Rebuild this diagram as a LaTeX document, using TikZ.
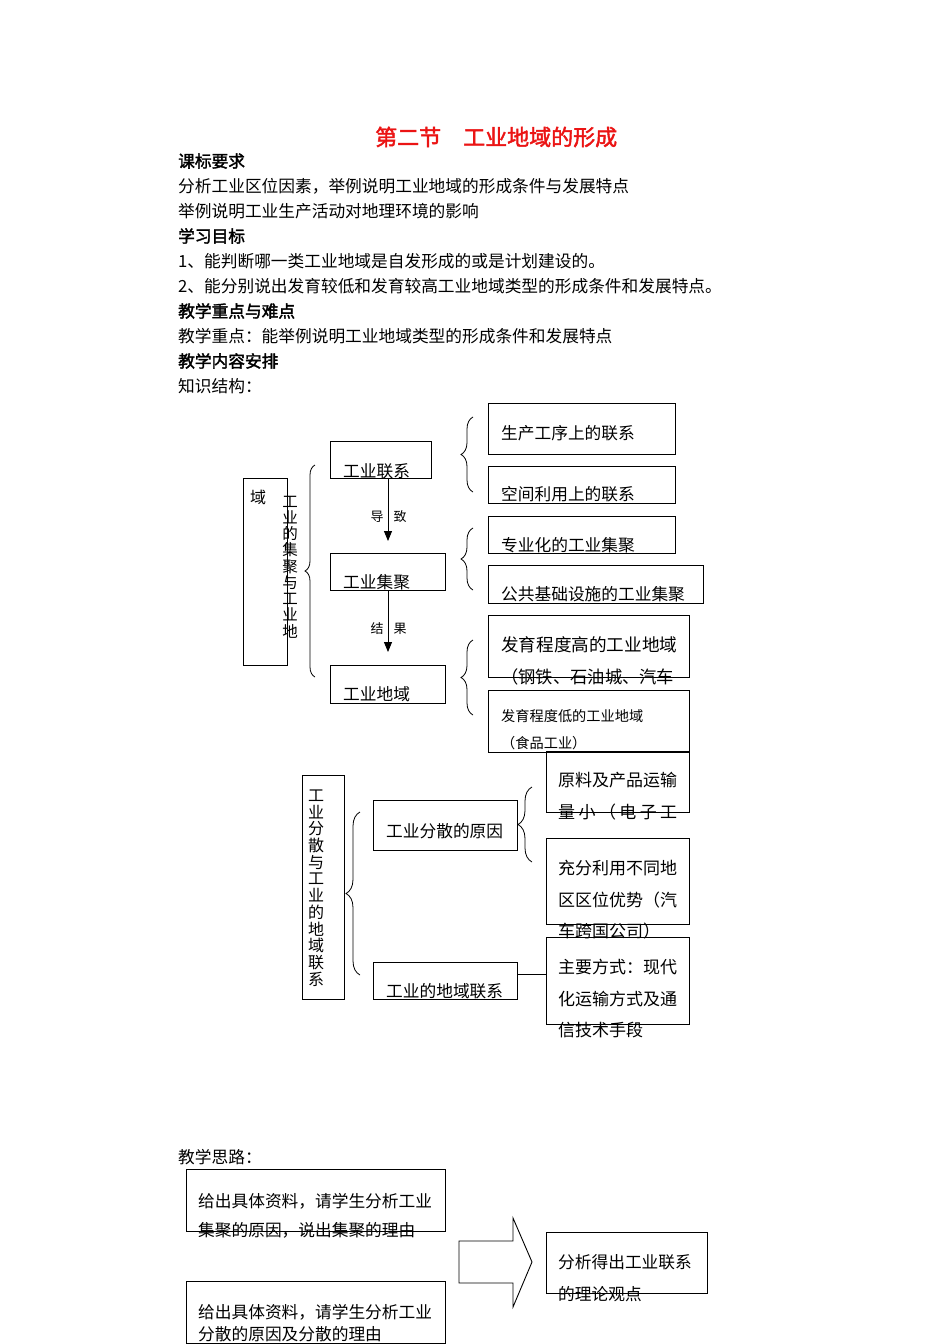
\documentclass[tikz,border=0pt]{standalone}
\usepackage{fontspec}
\newfontfamily\cjk{Noto Sans CJK SC}
\newfontfamily\cjkb[FakeBold=2]{Noto Sans CJK SC}
\usetikzlibrary{arrows.meta,decorations.pathreplacing}
\definecolor{titlered}{RGB}{235,20,20}
\newcommand\mybox[5]{\node[box, minimum width={#4pt-#2pt}, minimum height={#5pt-#3pt}] (#1) at (#2,#3) {};}
\begin{document}
\begin{tikzpicture}[x=1pt,y=-1pt,
  box/.style={draw, line width=0.9pt, inner sep=0pt, outer sep=0pt, anchor=north west},
  txt/.style={inner sep=0pt, anchor=west, font=\cjk\fontsize{16.7}{20}\selectfont},
  hd/.style={inner sep=0pt, anchor=west, font=\cjkb\fontsize{16.7}{20}\selectfont},
  sm/.style={inner sep=0pt, font=\cjk\fontsize{13}{15}\selectfont},
  vt/.style={inner sep=0pt, align=center},
  brc/.style={decorate, line width=0.8pt},
  arr/.style={line width=0.9pt, -{Triangle[width=8pt,length=10pt]}}]
\fill[white] (0,0) rectangle (950,1344);
\useasboundingbox (0,0) rectangle (950,1344);

% header text
\node[inner sep=0pt, anchor=west, font=\cjkb\fontsize{22}{26}\selectfont, text=titlered] (title) at (375,137) {第二节　工业地域的形成};
\node[hd]  (h1) at (178,161) {课标要求};
\node[txt] (l1) at (178,186) {分析工业区位因素，举例说明工业地域的形成条件与发展特点};
\node[txt] (l2) at (178,211) {举例说明工业生产活动对地理环境的影响};
\node[hd]  (h2) at (178,236) {学习目标};
\node[txt] (l3) at (178,261) {1、能判断哪一类工业地域是自发形成的或是计划建设的。};
\node[txt] (l4) at (178,286) {2、能分别说出发育较低和发育较高工业地域类型的形成条件和发展特点。};
\node[hd]  (h3) at (178,311) {教学重点与难点};
\node[txt] (l5) at (178,336) {教学重点：能举例说明工业地域类型的形成条件和发展特点};
\node[hd]  (h4) at (178,361) {教学内容安排};
\node[txt] (l6) at (178,386) {知识结构：};

% diagram 1 boxes
\mybox{yu}{243}{478}{287}{665}
\mybox{lianxi}{330}{441}{431}{478}
\mybox{jiju}{330}{553}{445}{590}
\mybox{diyu}{330}{665}{445}{703}
\mybox{b1}{488}{403}{675}{454}
\mybox{b2}{488}{466}{675}{503}
\mybox{b3}{488}{516}{675}{553}
\mybox{b4}{488}{565}{703}{603}
\mybox{b5}{488}{615}{689}{677}
\mybox{b6}{488}{690}{689}{752}

% diagram 1 texts
\node[inner sep=0pt, font=\cjk\fontsize{16}{18}\selectfont] (tyu) at (258,497) {域};
\node[vt, font=\cjk\fontsize{15.5}{16.25}\selectfont] (tv1) at (290,567) {工\\业\\的\\集\\聚\\与\\工\\业\\地};
\node[txt] (tlx) at (343,471) {工业联系};
\node[txt] (tjj) at (343,582) {工业集聚};
\node[txt] (tdy) at (343,694) {工业地域};
\node[sm] (td1) at (377,517) {导};
\node[sm] (td2) at (400,517) {致};
\node[sm] (tj1) at (377,629) {结};
\node[sm] (tj2) at (400,629) {果};
\node[txt] (tb1) at (501,433) {生产工序上的联系};
\node[txt] (tb2) at (501,494) {空间利用上的联系};
\node[txt] (tb3) at (501,545) {专业化的工业集聚};
\node[txt] (tb4) at (501,594) {公共基础设施的工业集聚};
\node[txt, font=\cjk\fontsize{17.6}{20}\selectfont] (tb5a) at (501,645) {发育程度高的工业地域};
\node[txt, font=\cjk\fontsize{17.3}{20}\selectfont] (tb5b) at (501,677) {（钢铁、石油城、汽车};
\node[txt, font=\cjk\fontsize{14.2}{17}\selectfont] (tb6a) at (501,716) {发育程度低的工业地域};
\node[txt, font=\cjk\fontsize{14.2}{17}\selectfont] (tb6b) at (501,743) {（食品工业）};

% arrows
\coordinate (ax) at (388,0);
\draw[arr, shorten >=12pt] (lianxi.south -| ax) -- (jiju.north -| ax);
\draw[arr, shorten >=13pt] (jiju.south -| ax) -- (diyu.north -| ax);

% braces diagram 1
\draw[brc, decoration={brace, amplitude=10pt}] (315,677) -- (315,465);
\draw[brc, decoration={brace, amplitude=12pt}] (473,492) -- (473,417);
\draw[brc, decoration={brace, amplitude=12pt}] (473,590) -- (473,528);
\draw[brc, decoration={brace, amplitude=12pt}] (473,715) -- (473,640);

% diagram 2 boxes
\mybox{vbox}{302}{775}{344}{999}
\mybox{fsyy}{373}{800}{517}{850}
\mybox{dylx}{373}{962}{517}{999}
\mybox{r1}{546}{751}{689}{812}
\mybox{r2}{546}{838}{689}{924}
\mybox{r3}{546}{937}{689}{1024}

% diagram 2 texts
\node[vt, font=\cjk\fontsize{16}{16.7}\selectfont] (tv2) at (316,888) {工\\业\\分\\散\\与\\工\\业\\的\\地\\域\\联\\系};
\node[txt] (tfs) at (386,831) {工业分散的原因};
\node[txt] (tdl) at (386,991) {工业的地域联系};
\node[txt, font=\cjk\fontsize{17}{20}\selectfont] (tr1a) at (558,780) {原料及产品运输};
\node[txt, font=\cjk\fontsize{17}{20}\selectfont] (tr1b) at (558,812) {\makebox[119pt][s]{量\hfill 小\hfill （\hfill 电\hfill 子\hfill 工}};
\node[txt, font=\cjk\fontsize{17}{20}\selectfont] (tr2a) at (558,868) {充分利用不同地};
\node[txt, font=\cjk\fontsize{17}{20}\selectfont] (tr2b) at (558,900) {区区位优势（汽};
\node[txt, font=\cjk\fontsize{17}{20}\selectfont] (tr2c) at (558,931) {车跨国公司）};
\node[txt, font=\cjk\fontsize{17}{20}\selectfont] (tr3a) at (558,967) {主要方式：现代};
\node[txt, font=\cjk\fontsize{17}{20}\selectfont] (tr3b) at (558,999) {化运输方式及通};
\node[txt, font=\cjk\fontsize{17}{20}\selectfont] (tr3c) at (558,1030) {信技术手段};

% braces diagram 2 and connector
\draw[brc, decoration={brace, amplitude=14pt}] (360,975) -- (360,812);
\draw[brc, decoration={brace, amplitude=14pt}] (532,862) -- (532,787);
\coordinate (ly) at (0,974);
\draw[line width=0.9pt] (dylx.east |- ly) -- (r3.west |- ly);

% bottom
\node[txt] (tsl) at (178,1157) {教学思路：};
\mybox{bx1}{186}{1169}{445}{1231}
\mybox{bx2}{186}{1281}{445}{1343}
\mybox{bx3}{546}{1232}{707}{1293}
\node[txt] (tx1a) at (198,1201) {给出具体资料，请学生分析工业};
\node[txt] (tx1b) at (198,1230) {集聚的原因，说出集聚的理由};
\node[txt] (tx2a) at (198,1312) {给出具体资料，请学生分析工业};
\node[txt] (tx2b) at (198,1334) {分散的原因及分散的理由};
\node[txt] (tx3a) at (558,1262) {分析得出工业联系};
\node[txt] (tx3b) at (558,1294) {的理论观点};
\draw[line width=0.9pt, line join=miter] (459,1241) -- (513,1241) -- (513,1218) -- (532,1262) -- (513,1307) -- (513,1283) -- (459,1283) -- cycle;
\end{tikzpicture}
\end{document}
